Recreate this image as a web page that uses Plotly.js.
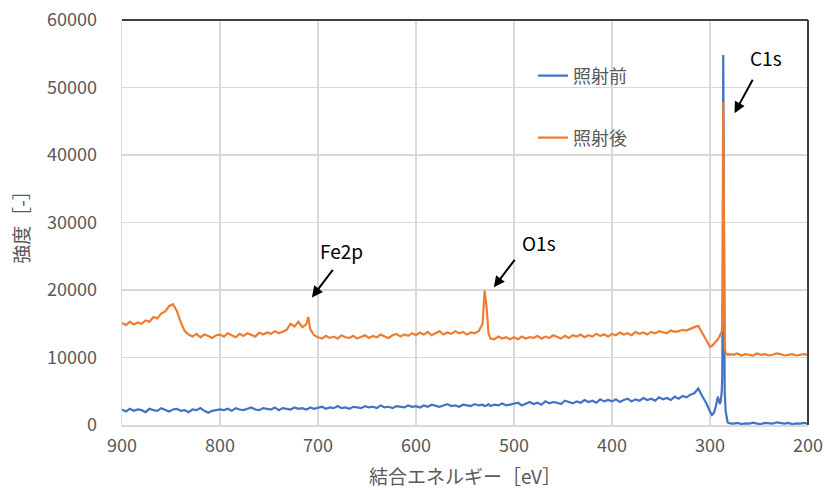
<!DOCTYPE html>
<html>
<head>
<meta charset="utf-8">
<script src="https://cdn.plot.ly/plotly-3.0.1.min.js"></script>
<style>body{margin:0;background:#fff;}#chart{width:824px;height:490px;}</style>
</head>
<body>
<div id="chart"></div>
<script>
// Binding energy [eV]
const energy = [
  900,896,892,888,884,880,876,872,868,864,860,856,852,848,844,840,836,832,828,824,820,816,812,808,804,
  800,796,792,788,784,780,776,772,768,764,760,756,752,748,744,740,736,732,728,724,720,716,712,710,708,704,
  700,696,692,688,684,680,676,672,668,664,660,656,652,648,644,640,636,632,628,624,620,616,612,608,604,
  600,596,592,588,584,580,576,572,568,564,560,556,552,548,544,540,536,532,530,528,526,524,520,516,512,508,504,
  500,496,492,488,484,480,476,472,468,464,460,456,452,448,444,440,436,432,428,424,420,416,412,408,404,
  400,396,392,388,384,380,376,372,368,364,360,356,352,348,344,340,336,332,328,324,320,316,312,308,304,300,
  298,296,294,292,290,289,288,287.5,287,286.5,286,285.5,285,284,283,282,281,280,278,
  276,272,268,264,260,256,252,248,244,240,236,232,228,224,220,216,212,208,204,200
];
// 照射前 (before irradiation)
const before = [
  2300,2000,2400,2100,2300,2200,1900,2400,2200,2100,2500,2200,2000,2300,2400,2100,2200,1900,2300,2200,2500,2100,1800,2100,2200,
  2300,2200,2400,2100,2500,2300,2200,2400,2600,2300,2200,2500,2400,2300,2600,2200,2500,2400,2300,2600,2400,2500,2300,2400,2600,2400,
  2500,2700,2400,2600,2500,2800,2500,2600,2400,2700,2600,2500,2800,2600,2700,2500,2900,2600,2700,2500,2800,2700,2600,2900,2700,
  2800,2600,2900,2700,3000,2800,2700,2900,3100,2800,2900,2700,3000,2900,2800,3100,2900,3000,2800,2900,3100,2800,3000,2900,3200,2900,3000,
  3100,3300,2900,3200,3400,3100,3300,3000,3500,3200,3400,3300,3100,3600,3400,3200,3500,3300,3700,3400,3600,3300,3800,3500,3700,
  3500,3800,3400,3700,3900,3500,3800,3600,4000,3700,3900,3600,4100,3800,4000,3700,4200,3900,4300,4100,4500,4700,5400,4300,3300,2000,
  1500,1800,2800,4200,3100,3600,5000,7000,20000,54800,30000,12000,5000,2000,800,400,300,250,200,
  200,300,150,250,200,350,200,150,300,250,200,400,250,200,300,150,250,200,300,200
];
// 照射後 (after irradiation)
const after = [
  15100,14800,15300,14900,15200,15000,15500,15300,16000,15800,16500,16800,17600,17900,16900,15200,13900,13400,13100,13500,13000,13400,13200,12900,13300,
  13400,13100,13600,13300,13000,13500,13200,13600,13300,13100,13700,13400,13700,13500,13900,13600,13800,14100,15000,14600,15300,14500,14900,16000,14200,13300,
  13000,12800,13200,12900,13100,12800,13300,13000,12900,13200,12800,13100,13300,12900,13200,13000,13400,13100,12900,13300,13500,13100,13400,13200,13600,
  13300,13700,13400,13800,13300,13600,13900,13400,13700,13500,13900,13600,13800,13400,13700,13600,13900,15000,19900,17500,13600,12800,12700,13100,12800,13000,12700,
  13000,12700,13100,12800,13000,12900,13200,12800,13100,12900,13300,13000,12800,13200,12900,13300,13100,13400,13000,13300,13100,13500,13200,13400,13100,
  13500,13300,13700,13400,13600,13300,13800,13500,13700,13400,13800,13600,13900,13700,13600,14000,13800,13900,14100,14000,14300,14500,14700,13700,12500,11600,
  11700,12000,12300,12700,13200,13500,13900,15000,22000,47800,25000,14000,11500,10700,10500,10400,10500,10400,10500,
  10400,10600,10300,10500,10400,10300,10600,10400,10500,10300,10400,10600,10500,10300,10400,10500,10300,10400,10500,10400
];
const seriesNames = ['照射前', '照射後'];
const xTicks = [900,800,700,600,500,400,300,200];
const yTicks = [0,10000,20000,30000,40000,50000,60000];
const peakLabels = ['C1s', 'O1s', 'Fe2p'];
const peakTip = [[275, 46200], [520.6, 20400], [706.2, 18900]];
const peakText = [[242.6, 54400], [474.9, 27100], [675.8, 25800]];
const tailOffset = [[19, -35], [22, -29], [22, -29]];

const FONT = '"Noto Sans CJK JP", "Noto Sans", sans-serif';
const GREY = '#595959';

const traces = [
  {x: energy, y: before, type: 'scatter', mode: 'lines', name: seriesNames[0],
   line: {color: '#4472C4', width: 2.2}, legend: 'legend'},
  {x: energy, y: after, type: 'scatter', mode: 'lines', name: seriesNames[1],
   line: {color: '#ED7D31', width: 2.2}, legend: 'legend2'}
];

const annotations = [];
for (let i = 0; i < peakLabels.length; i++) {
  annotations.push({x: peakTip[i][0], y: peakTip[i][1], xref: 'x', yref: 'y', text: '',
    showarrow: true, arrowhead: 2, arrowsize: 1.1, arrowwidth: 2, arrowcolor: '#000',
    ax: tailOffset[i][0], ay: tailOffset[i][1]});
  annotations.push({x: peakText[i][0], y: peakText[i][1], xref: 'x', yref: 'y',
    text: peakLabels[i], showarrow: false, font: {family: FONT, size: 19, color: '#000'}});
}

const legendBase = {xanchor: 'left', yanchor: 'middle', bgcolor: 'rgba(0,0,0,0)',
  font: {family: FONT, size: 18, color: GREY}, itemwidth: 30};

const layout = {
  width: 824, height: 490,
  margin: {l: 122, r: 16, t: 20, b: 65},
  paper_bgcolor: '#fff', plot_bgcolor: '#fff',
  font: {family: FONT, color: GREY},
  showlegend: true,
  legend: Object.assign({x: 0.599, y: 0.862}, legendBase),
  legend2: Object.assign({x: 0.599, y: 0.709}, legendBase),
  xaxis: {range: [900, 200], tickvals: xTicks, ticktext: xTicks.map(String),
    showgrid: true, gridcolor: '#d9d9d9', gridwidth: 1.5, zeroline: false,
    showline: true, linecolor: '#d9d9d9', linewidth: 1.5, ticks: '', ticklabelstandoff: 4,
    tickfont: {family: FONT, size: 18, color: GREY},
    title: {text: '結合エネルギー［eV］', font: {family: FONT, size: 19, color: GREY}, standoff: 14}},
  yaxis: {range: [0, 60000], tickvals: yTicks, ticktext: yTicks.map(String),
    showgrid: true, gridcolor: '#d9d9d9', gridwidth: 1.5, zeroline: false,
    showline: true, linecolor: '#d9d9d9', linewidth: 1.5, ticks: '', ticklabelstandoff: 20,
    tickfont: {family: FONT, size: 18, color: GREY},
    title: {text: '強度［-］', font: {family: FONT, size: 19, color: GREY}, standoff: 12}},
  shapes: [
    {type: 'line', xref: 'paper', yref: 'paper', x0: 0, x1: 1, y0: 1, y1: 1, line: {color: '#404040', width: 2}},
    {type: 'line', xref: 'paper', yref: 'paper', x0: 1, x1: 1, y0: 0, y1: 1, line: {color: '#404040', width: 2}}
  ],
  annotations: annotations
};

Plotly.newPlot('chart', traces, layout, {displayModeBar: false, staticPlot: true});
</script>
</body>
</html>
